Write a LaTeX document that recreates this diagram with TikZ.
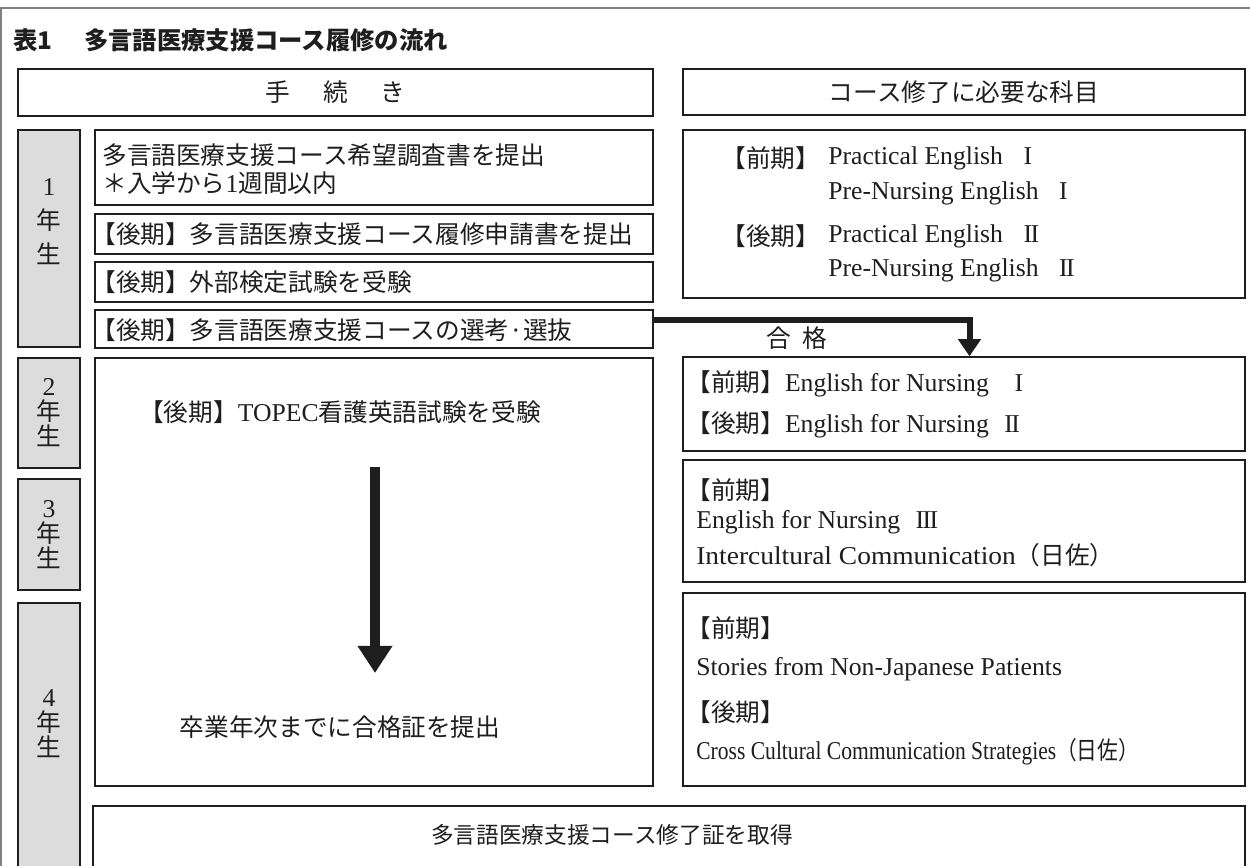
\documentclass[tikz,border=0pt]{standalone}
\usepackage{fontspec}
\usepackage{graphicx}
\setmainfont{Liberation Serif}
\newfontfamily\jpf{Noto Sans CJK JP}
\usetikzlibrary{arrows.meta}
\newcommand\J[1]{{\jpf\fontsize{14.8}{17}\selectfont #1}}
\newcommand\fs{\fontsize{15.4}{18}\selectfont}
\newcommand\RI{I}
\newcommand\RII{I\kern-0.06emI}
\newcommand\RIII{I\kern-0.06emI\kern-0.06emI}
\definecolor{greyfill}{HTML}{DCDCDC}
\definecolor{framecol}{HTML}{808080}
\definecolor{ink}{HTML}{1E1E1E}
\begin{document}
\begin{tikzpicture}[x=0.6pt,y=-0.6pt,
  box/.style={draw=ink, line width=0.9pt, inner sep=0pt, font=\fs, text=ink},
  greybox/.style={box, fill=greyfill, minimum width=37.2pt},
  leftbox/.style={box, minimum width=334.8pt},
  rightbox/.style={box, minimum width=337.2pt},
  txt/.style={inner sep=0pt, font=\fs, text=ink},
  lt/.style={txt, anchor=west},
  bigarrow/.style={draw=ink, line width=5.7pt, -{Triangle[width=19.8pt,length=16.2pt]}},
  passarrow/.style={draw=ink, line width=3.6pt, line join=miter, -{Triangle[width=13.2pt,length=10.2pt]}}
]
\useasboundingbox (0,0) rectangle (1250,866);
\fill[white] (0,0) rectangle (1250,866);
\draw[framecol, line width=1pt] (1,866) -- (1,8) -- (1250,8);

% title
\node[lt, font=\fontsize{14.6}{17}\selectfont\jpf\bfseries] (title) at (13,40) {表1\hspace{1.3em}多言語医療支援コース履修の流れ};

% headers
\node[box, minimum width=381pt, minimum height=28.2pt] (h1) at (335.5,92.5) {\J{手\hspace{1.33em}続\hspace{1.33em}き}};
\node[rightbox, minimum height=27.6pt] (h2) at (964,92) {\J{コース修了に必要な科目}};

% year boxes
\node[greybox, minimum height=130.2pt] (g1) at (49,238.5) {};
\node[txt, align=center, font=\fontsize{15.4}{20.4}\selectfont] (g1t) at (49,222) {1\\\J{年}\\\J{生}};
\node[greybox, minimum height=66pt, align=center, font=\fontsize{15.4}{15}\selectfont] (g2) at (49,413) {2\\\J{年}\\\J{生}};
\node[greybox, minimum height=66.6pt, align=center, font=\fontsize{15.4}{15}\selectfont] (g3) at (49,534.5) {3\\\J{年}\\\J{生}};
\node[greybox, minimum height=166.2pt] (g4) at (49,741.5) {};
\node[txt, align=center, font=\fontsize{15.4}{15}\selectfont] (g4t) at (49,724) {4\\\J{年}\\\J{生}};

% procedure boxes
\node[leftbox, minimum height=45pt] (pa) at (374,167.5) {};
\node[lt] (pa1) at (102,155) {\J{多言語医療支援コース希望調査書を提出}};
\node[lt] (pa2) at (102,183) {\J{＊入学から}1\J{週間以内}};
\node[leftbox, minimum height=24pt] (pb) at (374,234) {};
\node[lt] (pbt) at (91,234) {\J{【後期】多言語医療支援コース履修申請書を提出}};
\node[leftbox, minimum height=24pt] (pc) at (374,282) {};
\node[lt] (pct) at (91,282) {\J{【後期】外部検定試験を受験}};
\node[leftbox, minimum height=22.8pt] (pd) at (374,329) {};
\node[lt] (pdt) at (91,330) {\J{【後期】多言語医療支援コースの選考·選抜}};
\node[leftbox, minimum height=256.8pt] (pe) at (374,572) {};
\node[txt] (pe1) at (340,412) {\J{【後期】}TOPEC\J{看護英語試験を受験}};
\node[txt] (pe2) at (340,727) {\J{卒業年次までに合格証を提出}};

% subject boxes
\node[rightbox, minimum height=100.8pt] (r1) at (964,214) {};
\node[lt] (r1a) at (721,158) {\J{【前期】}};
\node[lt] (r1b) at (828,158) {Practical English\hspace{0.8em}\RI};
\node[lt] (r1c) at (828,193) {Pre-Nursing English\hspace{0.8em}\RI};
\node[lt] (r1d) at (721,236) {\J{【後期】}};
\node[lt] (r1e) at (828,236) {Practical English\hspace{0.8em}\RII};
\node[lt] (r1f) at (828,270) {Pre-Nursing English\hspace{0.8em}\RII};

\node[rightbox, minimum height=56.4pt] (r2) at (964,404) {};
\node[lt] (r2a) at (686,384) {\J{【前期】}English for Nursing\hspace{1.0em}\RI};
\node[lt] (r2b) at (686,425) {\J{【後期】}English for Nursing\hspace{0.6em}\RII};

\node[rightbox, minimum height=73.2pt] (r3) at (964,521) {};
\node[lt] (r3a) at (686,490) {\J{【前期】}};
\node[lt] (r3b) at (696,522) {English for Nursing\hspace{0.6em}\RIII};
\node[lt] (r3c) at (696,555) {\scalebox{1.07}[1]{Intercultural Communication}\J{（日佐）}};

\node[rightbox, minimum height=115.8pt] (r4) at (964,689.5) {};
\node[lt] (r4a) at (686,628) {\J{【前期】}};
\node[lt] (r4b) at (696,669) {Stories from Non-Japanese Patients};
\node[lt] (r4c) at (686,712) {\J{【後期】}};
\node[lt] (r4d) at (696,752) {\scalebox{0.84}[1]{Cross Cultural Communication Strategies\J{（日佐）}}};

% final box
\node[box, minimum width=691.2pt, minimum height=56.4pt] (fin) at (669,853) {};
\node[txt, font=\jpf\fontsize{13.6}{16}\selectfont] (fint) at (612,835) {多言語医療支援コース修了証を取得};

% pass arrow
\node[txt] (pass) at (797,338) {\J{合\hspace{0.45em}格}};
\draw[passarrow] ([yshift=5.4pt]pd.east) -| ([xshift=3.3pt]r2.north);

% long arrow
\coordinate (va) at (375,467);
\coordinate (vb) at (375,673);
\draw[bigarrow] (va) -- (vb);
\end{tikzpicture}
\end{document}
